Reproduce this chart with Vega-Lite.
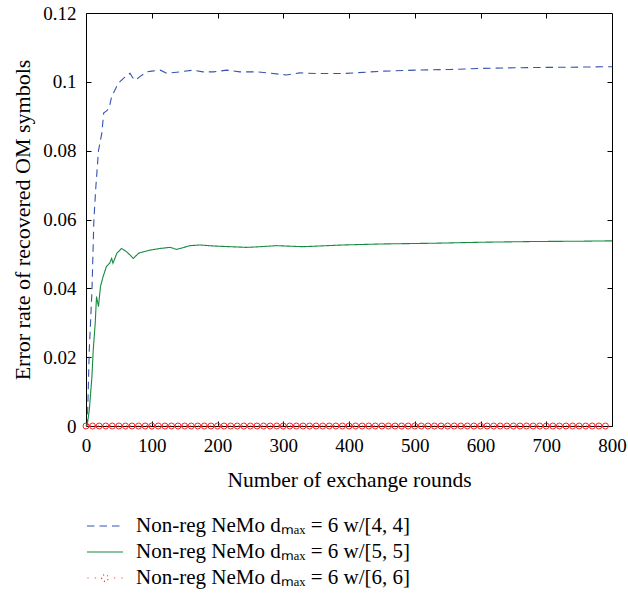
{
  "$schema": "https://vega.github.io/schema/vega-lite/v6.json",
  "width": 526,
  "height": 413,
  "autosize": "none",
  "padding": {"left": 86, "top": 13, "right": 16, "bottom": 168},
  "background": "white",
  "config": {
    "font": "Liberation Serif",
    "view": {"stroke": "black", "strokeWidth": 1},
    "axis": {
      "grid": false, "domain": false, "tickColor": "black", "tickSize": -5, "tickWidth": 1,
      "labelFont": "Liberation Serif", "labelFontSize": 19, "labelColor": "black", "labelPadding": 15, "labelFlush": false,
      "titleFont": "Liberation Serif", "titleFontSize": 21.5, "titleFontWeight": "normal", "titleColor": "black"
    },
    "axisX": {"titlePadding": 14},
    "axisY": {"titlePadding": 8, "titleFontSize": 22},
    "legend": {
      "orient": "none", "legendX": 8, "legendY": 502, "direction": "vertical", "padding": 0,
      "labelFont": "Liberation Serif", "labelFontSize": 21, "labelColor": "black", "labelLimit": 500,
      "symbolType": "M-1.8,0L1.8,0", "symbolSize": 400, "symbolStrokeWidth": 1.2, "labelOffset": 20, "rowPadding": 5
    }
  },
  "datasets": {
    "curves": [
      {"series": "Non-reg NeMo dₘₐₓ = 6 w/[4, 4]", "x": 0, "y": 0},
      {"series": "Non-reg NeMo dₘₐₓ = 6 w/[4, 4]", "x": 2, "y": 0.0003},
      {"series": "Non-reg NeMo dₘₐₓ = 6 w/[4, 4]", "x": 5, "y": 0.0221},
      {"series": "Non-reg NeMo dₘₐₓ = 6 w/[4, 4]", "x": 9, "y": 0.039},
      {"series": "Non-reg NeMo dₘₐₓ = 6 w/[4, 4]", "x": 12, "y": 0.06},
      {"series": "Non-reg NeMo dₘₐₓ = 6 w/[4, 4]", "x": 15, "y": 0.0695},
      {"series": "Non-reg NeMo dₘₐₓ = 6 w/[4, 4]", "x": 19, "y": 0.08},
      {"series": "Non-reg NeMo dₘₐₓ = 6 w/[4, 4]", "x": 24, "y": 0.085},
      {"series": "Non-reg NeMo dₘₐₓ = 6 w/[4, 4]", "x": 27, "y": 0.091},
      {"series": "Non-reg NeMo dₘₐₓ = 6 w/[4, 4]", "x": 31, "y": 0.0915},
      {"series": "Non-reg NeMo dₘₐₓ = 6 w/[4, 4]", "x": 35, "y": 0.0923},
      {"series": "Non-reg NeMo dₘₐₓ = 6 w/[4, 4]", "x": 39, "y": 0.0957},
      {"series": "Non-reg NeMo dₘₐₓ = 6 w/[4, 4]", "x": 44, "y": 0.0976},
      {"series": "Non-reg NeMo dₘₐₓ = 6 w/[4, 4]", "x": 49, "y": 0.0996},
      {"series": "Non-reg NeMo dₘₐₓ = 6 w/[4, 4]", "x": 57, "y": 0.101},
      {"series": "Non-reg NeMo dₘₐₓ = 6 w/[4, 4]", "x": 62, "y": 0.1018},
      {"series": "Non-reg NeMo dₘₐₓ = 6 w/[4, 4]", "x": 67, "y": 0.1025},
      {"series": "Non-reg NeMo dₘₐₓ = 6 w/[4, 4]", "x": 71, "y": 0.1012},
      {"series": "Non-reg NeMo dₘₐₓ = 6 w/[4, 4]", "x": 75, "y": 0.1005},
      {"series": "Non-reg NeMo dₘₐₓ = 6 w/[4, 4]", "x": 82, "y": 0.1015},
      {"series": "Non-reg NeMo dₘₐₓ = 6 w/[4, 4]", "x": 92, "y": 0.1029},
      {"series": "Non-reg NeMo dₘₐₓ = 6 w/[4, 4]", "x": 100, "y": 0.1031},
      {"series": "Non-reg NeMo dₘₐₓ = 6 w/[4, 4]", "x": 113, "y": 0.1034},
      {"series": "Non-reg NeMo dₘₐₓ = 6 w/[4, 4]", "x": 123, "y": 0.1025},
      {"series": "Non-reg NeMo dₘₐₓ = 6 w/[4, 4]", "x": 143, "y": 0.1029},
      {"series": "Non-reg NeMo dₘₐₓ = 6 w/[4, 4]", "x": 163, "y": 0.1034},
      {"series": "Non-reg NeMo dₘₐₓ = 6 w/[4, 4]", "x": 178, "y": 0.1029},
      {"series": "Non-reg NeMo dₘₐₓ = 6 w/[4, 4]", "x": 194, "y": 0.1029},
      {"series": "Non-reg NeMo dₘₐₓ = 6 w/[4, 4]", "x": 214, "y": 0.1034},
      {"series": "Non-reg NeMo dₘₐₓ = 6 w/[4, 4]", "x": 234, "y": 0.1029},
      {"series": "Non-reg NeMo dₘₐₓ = 6 w/[4, 4]", "x": 260, "y": 0.1029},
      {"series": "Non-reg NeMo dₘₐₓ = 6 w/[4, 4]", "x": 275, "y": 0.1026},
      {"series": "Non-reg NeMo dₘₐₓ = 6 w/[4, 4]", "x": 305, "y": 0.102},
      {"series": "Non-reg NeMo dₘₐₓ = 6 w/[4, 4]", "x": 325, "y": 0.1026},
      {"series": "Non-reg NeMo dₘₐₓ = 6 w/[4, 4]", "x": 351, "y": 0.1024},
      {"series": "Non-reg NeMo dₘₐₓ = 6 w/[4, 4]", "x": 391, "y": 0.1024},
      {"series": "Non-reg NeMo dₘₐₓ = 6 w/[4, 4]", "x": 452, "y": 0.1031},
      {"series": "Non-reg NeMo dₘₐₓ = 6 w/[4, 4]", "x": 503, "y": 0.1034},
      {"series": "Non-reg NeMo dₘₐₓ = 6 w/[4, 4]", "x": 554, "y": 0.1036},
      {"series": "Non-reg NeMo dₘₐₓ = 6 w/[4, 4]", "x": 604, "y": 0.1039},
      {"series": "Non-reg NeMo dₘₐₓ = 6 w/[4, 4]", "x": 655, "y": 0.1041},
      {"series": "Non-reg NeMo dₘₐₓ = 6 w/[4, 4]", "x": 706, "y": 0.1042},
      {"series": "Non-reg NeMo dₘₐₓ = 6 w/[4, 4]", "x": 760, "y": 0.1043},
      {"series": "Non-reg NeMo dₘₐₓ = 6 w/[4, 4]", "x": 800, "y": 0.1044},
      {"series": "Non-reg NeMo dₘₐₓ = 6 w/[5, 5]", "x": 0, "y": 0},
      {"series": "Non-reg NeMo dₘₐₓ = 6 w/[5, 5]", "x": 2, "y": 0.0005},
      {"series": "Non-reg NeMo dₘₐₓ = 6 w/[5, 5]", "x": 5, "y": 0.0046},
      {"series": "Non-reg NeMo dₘₐₓ = 6 w/[5, 5]", "x": 9, "y": 0.0143},
      {"series": "Non-reg NeMo dₘₐₓ = 6 w/[5, 5]", "x": 11, "y": 0.0221},
      {"series": "Non-reg NeMo dₘₐₓ = 6 w/[5, 5]", "x": 14, "y": 0.0298},
      {"series": "Non-reg NeMo dₘₐₓ = 6 w/[5, 5]", "x": 16, "y": 0.0376},
      {"series": "Non-reg NeMo dₘₐₓ = 6 w/[5, 5]", "x": 19, "y": 0.0347},
      {"series": "Non-reg NeMo dₘₐₓ = 6 w/[5, 5]", "x": 22, "y": 0.0405},
      {"series": "Non-reg NeMo dₘₐₓ = 6 w/[5, 5]", "x": 26, "y": 0.0434},
      {"series": "Non-reg NeMo dₘₐₓ = 6 w/[5, 5]", "x": 31, "y": 0.0463},
      {"series": "Non-reg NeMo dₘₐₓ = 6 w/[5, 5]", "x": 36, "y": 0.0473},
      {"series": "Non-reg NeMo dₘₐₓ = 6 w/[5, 5]", "x": 39, "y": 0.0487},
      {"series": "Non-reg NeMo dₘₐₓ = 6 w/[5, 5]", "x": 41, "y": 0.0473},
      {"series": "Non-reg NeMo dₘₐₓ = 6 w/[5, 5]", "x": 47, "y": 0.0502},
      {"series": "Non-reg NeMo dₘₐₓ = 6 w/[5, 5]", "x": 54, "y": 0.0516},
      {"series": "Non-reg NeMo dₘₐₓ = 6 w/[5, 5]", "x": 62, "y": 0.0506},
      {"series": "Non-reg NeMo dₘₐₓ = 6 w/[5, 5]", "x": 72, "y": 0.0487},
      {"series": "Non-reg NeMo dₘₐₓ = 6 w/[5, 5]", "x": 80, "y": 0.0502},
      {"series": "Non-reg NeMo dₘₐₓ = 6 w/[5, 5]", "x": 87, "y": 0.0506},
      {"series": "Non-reg NeMo dₘₐₓ = 6 w/[5, 5]", "x": 97, "y": 0.0511},
      {"series": "Non-reg NeMo dₘₐₓ = 6 w/[5, 5]", "x": 113, "y": 0.0516},
      {"series": "Non-reg NeMo dₘₐₓ = 6 w/[5, 5]", "x": 128, "y": 0.0519},
      {"series": "Non-reg NeMo dₘₐₓ = 6 w/[5, 5]", "x": 138, "y": 0.0513},
      {"series": "Non-reg NeMo dₘₐₓ = 6 w/[5, 5]", "x": 158, "y": 0.0524},
      {"series": "Non-reg NeMo dₘₐₓ = 6 w/[5, 5]", "x": 173, "y": 0.0526},
      {"series": "Non-reg NeMo dₘₐₓ = 6 w/[5, 5]", "x": 194, "y": 0.0523},
      {"series": "Non-reg NeMo dₘₐₓ = 6 w/[5, 5]", "x": 219, "y": 0.0521},
      {"series": "Non-reg NeMo dₘₐₓ = 6 w/[5, 5]", "x": 244, "y": 0.0519},
      {"series": "Non-reg NeMo dₘₐₓ = 6 w/[5, 5]", "x": 265, "y": 0.0521},
      {"series": "Non-reg NeMo dₘₐₓ = 6 w/[5, 5]", "x": 290, "y": 0.0524},
      {"series": "Non-reg NeMo dₘₐₓ = 6 w/[5, 5]", "x": 330, "y": 0.0521},
      {"series": "Non-reg NeMo dₘₐₓ = 6 w/[5, 5]", "x": 391, "y": 0.0526},
      {"series": "Non-reg NeMo dₘₐₓ = 6 w/[5, 5]", "x": 452, "y": 0.0529},
      {"series": "Non-reg NeMo dₘₐₓ = 6 w/[5, 5]", "x": 528, "y": 0.0531},
      {"series": "Non-reg NeMo dₘₐₓ = 6 w/[5, 5]", "x": 604, "y": 0.0534},
      {"series": "Non-reg NeMo dₘₐₓ = 6 w/[5, 5]", "x": 680, "y": 0.0536},
      {"series": "Non-reg NeMo dₘₐₓ = 6 w/[5, 5]", "x": 756, "y": 0.0537},
      {"series": "Non-reg NeMo dₘₐₓ = 6 w/[5, 5]", "x": 800, "y": 0.0538}
    ],
    "red": [
      {"series": "Non-reg NeMo dₘₐₓ = 6 w/[6, 6]", "x": 0, "y": 0},
      {"series": "Non-reg NeMo dₘₐₓ = 6 w/[6, 6]", "x": 10, "y": 0},
      {"series": "Non-reg NeMo dₘₐₓ = 6 w/[6, 6]", "x": 20, "y": 0},
      {"series": "Non-reg NeMo dₘₐₓ = 6 w/[6, 6]", "x": 30, "y": 0},
      {"series": "Non-reg NeMo dₘₐₓ = 6 w/[6, 6]", "x": 40, "y": 0},
      {"series": "Non-reg NeMo dₘₐₓ = 6 w/[6, 6]", "x": 50, "y": 0},
      {"series": "Non-reg NeMo dₘₐₓ = 6 w/[6, 6]", "x": 60, "y": 0},
      {"series": "Non-reg NeMo dₘₐₓ = 6 w/[6, 6]", "x": 70, "y": 0},
      {"series": "Non-reg NeMo dₘₐₓ = 6 w/[6, 6]", "x": 80, "y": 0},
      {"series": "Non-reg NeMo dₘₐₓ = 6 w/[6, 6]", "x": 90, "y": 0},
      {"series": "Non-reg NeMo dₘₐₓ = 6 w/[6, 6]", "x": 100, "y": 0},
      {"series": "Non-reg NeMo dₘₐₓ = 6 w/[6, 6]", "x": 110, "y": 0},
      {"series": "Non-reg NeMo dₘₐₓ = 6 w/[6, 6]", "x": 120, "y": 0},
      {"series": "Non-reg NeMo dₘₐₓ = 6 w/[6, 6]", "x": 130, "y": 0},
      {"series": "Non-reg NeMo dₘₐₓ = 6 w/[6, 6]", "x": 140, "y": 0},
      {"series": "Non-reg NeMo dₘₐₓ = 6 w/[6, 6]", "x": 150, "y": 0},
      {"series": "Non-reg NeMo dₘₐₓ = 6 w/[6, 6]", "x": 160, "y": 0},
      {"series": "Non-reg NeMo dₘₐₓ = 6 w/[6, 6]", "x": 170, "y": 0},
      {"series": "Non-reg NeMo dₘₐₓ = 6 w/[6, 6]", "x": 180, "y": 0},
      {"series": "Non-reg NeMo dₘₐₓ = 6 w/[6, 6]", "x": 190, "y": 0},
      {"series": "Non-reg NeMo dₘₐₓ = 6 w/[6, 6]", "x": 200, "y": 0},
      {"series": "Non-reg NeMo dₘₐₓ = 6 w/[6, 6]", "x": 210, "y": 0},
      {"series": "Non-reg NeMo dₘₐₓ = 6 w/[6, 6]", "x": 220, "y": 0},
      {"series": "Non-reg NeMo dₘₐₓ = 6 w/[6, 6]", "x": 230, "y": 0},
      {"series": "Non-reg NeMo dₘₐₓ = 6 w/[6, 6]", "x": 240, "y": 0},
      {"series": "Non-reg NeMo dₘₐₓ = 6 w/[6, 6]", "x": 250, "y": 0},
      {"series": "Non-reg NeMo dₘₐₓ = 6 w/[6, 6]", "x": 260, "y": 0},
      {"series": "Non-reg NeMo dₘₐₓ = 6 w/[6, 6]", "x": 270, "y": 0},
      {"series": "Non-reg NeMo dₘₐₓ = 6 w/[6, 6]", "x": 280, "y": 0},
      {"series": "Non-reg NeMo dₘₐₓ = 6 w/[6, 6]", "x": 290, "y": 0},
      {"series": "Non-reg NeMo dₘₐₓ = 6 w/[6, 6]", "x": 300, "y": 0},
      {"series": "Non-reg NeMo dₘₐₓ = 6 w/[6, 6]", "x": 310, "y": 0},
      {"series": "Non-reg NeMo dₘₐₓ = 6 w/[6, 6]", "x": 320, "y": 0},
      {"series": "Non-reg NeMo dₘₐₓ = 6 w/[6, 6]", "x": 330, "y": 0},
      {"series": "Non-reg NeMo dₘₐₓ = 6 w/[6, 6]", "x": 340, "y": 0},
      {"series": "Non-reg NeMo dₘₐₓ = 6 w/[6, 6]", "x": 350, "y": 0},
      {"series": "Non-reg NeMo dₘₐₓ = 6 w/[6, 6]", "x": 360, "y": 0},
      {"series": "Non-reg NeMo dₘₐₓ = 6 w/[6, 6]", "x": 370, "y": 0},
      {"series": "Non-reg NeMo dₘₐₓ = 6 w/[6, 6]", "x": 380, "y": 0},
      {"series": "Non-reg NeMo dₘₐₓ = 6 w/[6, 6]", "x": 390, "y": 0},
      {"series": "Non-reg NeMo dₘₐₓ = 6 w/[6, 6]", "x": 400, "y": 0},
      {"series": "Non-reg NeMo dₘₐₓ = 6 w/[6, 6]", "x": 410, "y": 0},
      {"series": "Non-reg NeMo dₘₐₓ = 6 w/[6, 6]", "x": 420, "y": 0},
      {"series": "Non-reg NeMo dₘₐₓ = 6 w/[6, 6]", "x": 430, "y": 0},
      {"series": "Non-reg NeMo dₘₐₓ = 6 w/[6, 6]", "x": 440, "y": 0},
      {"series": "Non-reg NeMo dₘₐₓ = 6 w/[6, 6]", "x": 450, "y": 0},
      {"series": "Non-reg NeMo dₘₐₓ = 6 w/[6, 6]", "x": 460, "y": 0},
      {"series": "Non-reg NeMo dₘₐₓ = 6 w/[6, 6]", "x": 470, "y": 0},
      {"series": "Non-reg NeMo dₘₐₓ = 6 w/[6, 6]", "x": 480, "y": 0},
      {"series": "Non-reg NeMo dₘₐₓ = 6 w/[6, 6]", "x": 490, "y": 0},
      {"series": "Non-reg NeMo dₘₐₓ = 6 w/[6, 6]", "x": 500, "y": 0},
      {"series": "Non-reg NeMo dₘₐₓ = 6 w/[6, 6]", "x": 510, "y": 0},
      {"series": "Non-reg NeMo dₘₐₓ = 6 w/[6, 6]", "x": 520, "y": 0},
      {"series": "Non-reg NeMo dₘₐₓ = 6 w/[6, 6]", "x": 530, "y": 0},
      {"series": "Non-reg NeMo dₘₐₓ = 6 w/[6, 6]", "x": 540, "y": 0},
      {"series": "Non-reg NeMo dₘₐₓ = 6 w/[6, 6]", "x": 550, "y": 0},
      {"series": "Non-reg NeMo dₘₐₓ = 6 w/[6, 6]", "x": 560, "y": 0},
      {"series": "Non-reg NeMo dₘₐₓ = 6 w/[6, 6]", "x": 570, "y": 0},
      {"series": "Non-reg NeMo dₘₐₓ = 6 w/[6, 6]", "x": 580, "y": 0},
      {"series": "Non-reg NeMo dₘₐₓ = 6 w/[6, 6]", "x": 590, "y": 0},
      {"series": "Non-reg NeMo dₘₐₓ = 6 w/[6, 6]", "x": 600, "y": 0},
      {"series": "Non-reg NeMo dₘₐₓ = 6 w/[6, 6]", "x": 610, "y": 0},
      {"series": "Non-reg NeMo dₘₐₓ = 6 w/[6, 6]", "x": 620, "y": 0},
      {"series": "Non-reg NeMo dₘₐₓ = 6 w/[6, 6]", "x": 630, "y": 0},
      {"series": "Non-reg NeMo dₘₐₓ = 6 w/[6, 6]", "x": 640, "y": 0},
      {"series": "Non-reg NeMo dₘₐₓ = 6 w/[6, 6]", "x": 650, "y": 0},
      {"series": "Non-reg NeMo dₘₐₓ = 6 w/[6, 6]", "x": 660, "y": 0},
      {"series": "Non-reg NeMo dₘₐₓ = 6 w/[6, 6]", "x": 670, "y": 0},
      {"series": "Non-reg NeMo dₘₐₓ = 6 w/[6, 6]", "x": 680, "y": 0},
      {"series": "Non-reg NeMo dₘₐₓ = 6 w/[6, 6]", "x": 690, "y": 0},
      {"series": "Non-reg NeMo dₘₐₓ = 6 w/[6, 6]", "x": 700, "y": 0},
      {"series": "Non-reg NeMo dₘₐₓ = 6 w/[6, 6]", "x": 710, "y": 0},
      {"series": "Non-reg NeMo dₘₐₓ = 6 w/[6, 6]", "x": 720, "y": 0},
      {"series": "Non-reg NeMo dₘₐₓ = 6 w/[6, 6]", "x": 730, "y": 0},
      {"series": "Non-reg NeMo dₘₐₓ = 6 w/[6, 6]", "x": 740, "y": 0},
      {"series": "Non-reg NeMo dₘₐₓ = 6 w/[6, 6]", "x": 750, "y": 0},
      {"series": "Non-reg NeMo dₘₐₓ = 6 w/[6, 6]", "x": 760, "y": 0},
      {"series": "Non-reg NeMo dₘₐₓ = 6 w/[6, 6]", "x": 770, "y": 0},
      {"series": "Non-reg NeMo dₘₐₓ = 6 w/[6, 6]", "x": 780, "y": 0},
      {"series": "Non-reg NeMo dₘₐₓ = 6 w/[6, 6]", "x": 790, "y": 0}
    ]
  },
  "resolve": {"axis": {"x": "independent", "y": "independent"}},
  "layer": [
    {
      "data": {"name": "red"},
      "mark": {"type": "line", "strokeWidth": 1, "clip": false},
      "encoding": {
        "x": {"field": "x", "type": "quantitative", "scale": {"domain": [0, 800], "nice": false}, "axis": {"orient": "top", "labels": false, "title": null, "values": [100, 200, 300, 400, 500, 600, 700]}},
        "y": {"field": "y", "type": "quantitative", "scale": {"domain": [0, 0.12], "nice": false}, "axis": {"orient": "right", "labels": false, "title": null, "values": [0.02, 0.04, 0.06, 0.08, 0.1]}},
        "color": {"field": "series", "type": "nominal", "scale": {"domain": ["Non-reg NeMo dₘₐₓ = 6 w/[4, 4]", "Non-reg NeMo dₘₐₓ = 6 w/[5, 5]", "Non-reg NeMo dₘₐₓ = 6 w/[6, 6]"], "range": ["#3553b0", "#168a3e", "#ff2020"]}, "legend": {"title": null, "encode": {"symbols": {"update": {"shape": {"signal": "indexof(datum.value, '[6, 6]') >= 0 ? 'M-1.75,0L-1.65,0M-1.02,0L-0.92,0M0.92,0L1.02,0M1.65,0L1.75,0M-0.33,0A0.33,0.33 0 1,0 0.33,0A0.33,0.33 0 1,0 -0.33,0' : 'M-1.8,0L1.8,0'"}, "strokeDash": {"signal": "indexof(datum.value, '[4, 4]') >= 0 ? [7.5, 5] : [1, 0]"}}}}}},
        "strokeDash": {"field": "series", "type": "nominal", "scale": {"domain": ["Non-reg NeMo dₘₐₓ = 6 w/[4, 4]", "Non-reg NeMo dₘₐₓ = 6 w/[5, 5]", "Non-reg NeMo dₘₐₓ = 6 w/[6, 6]"], "range": [[7.5, 5], [1, 0], [1, 3]]}, "legend": null}
      }
    },
    {
      "data": {"name": "curves"},
      "mark": {"type": "line", "strokeWidth": 1.1},
      "encoding": {
        "x": {"field": "x", "type": "quantitative", "title": "Number of exchange rounds", "axis": {"orient": "bottom", "values": [0, 100, 200, 300, 400, 500, 600, 700, 800]}},
        "y": {"field": "y", "type": "quantitative", "title": "Error rate of recovered OM symbols", "axis": {"orient": "left", "format": ".2~g", "values": [0, 0.02, 0.04, 0.06, 0.08, 0.1, 0.12]}},
        "color": {"field": "series", "type": "nominal", "legend": {"title": null, "encode": {"symbols": {"update": {"shape": {"signal": "indexof(datum.value, '[6, 6]') >= 0 ? 'M-1.75,0L-1.65,0M-1.02,0L-0.92,0M0.92,0L1.02,0M1.65,0L1.75,0M-0.33,0A0.33,0.33 0 1,0 0.33,0A0.33,0.33 0 1,0 -0.33,0' : 'M-1.8,0L1.8,0'"}, "strokeDash": {"signal": "indexof(datum.value, '[4, 4]') >= 0 ? [7.5, 5] : [1, 0]"}}}}}},
        "strokeDash": {"field": "series", "type": "nominal", "legend": null}
      }
    },
    {
      "data": {"name": "red"},
      "mark": {"type": "point", "shape": "circle", "filled": false, "stroke": "#ff2020", "strokeWidth": 1, "size": 36, "opacity": 1, "clip": false},
      "encoding": {
        "x": {"field": "x", "type": "quantitative", "axis": null},
        "y": {"field": "y", "type": "quantitative", "axis": null}
      }
    }
  ]
}
